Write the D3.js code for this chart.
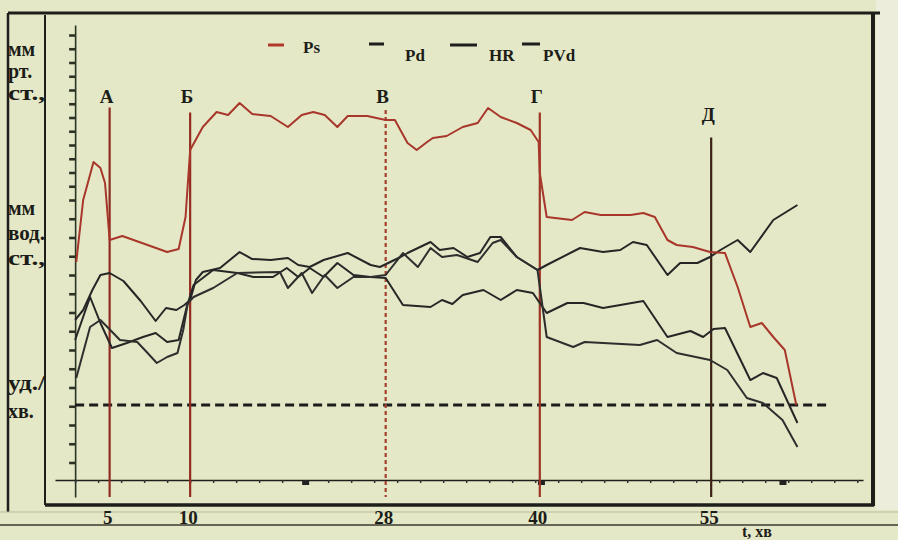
<!DOCTYPE html>
<html>
<head>
<meta charset="utf-8">
<script src="https://cdn.jsdelivr.net/npm/d3@7"></script>
<style>
  html, body { margin: 0; padding: 0; background: #e3e7c3; }
  svg { display: block; }
  text { font-family: "Liberation Serif", "DejaVu Serif", serif; }
</style>
</head>
<body>
<svg id="chart" width="898" height="540"></svg>
<script>
// ---------- DATA (time in minutes, values in chart units) ----------
const seriesNames = ["Ps", "Pd", "HR", "PVd"];

const psT = [0.1,0.7,1.6,2.2,2.6,3.0,4.1,6.3,8.0,9.0,9.6,10.0,11.1,12.3,13.3,14.3,15.4,17.0,18.5,19.7,20.7,21.7,22.8,23.7,25.4,27.0,27.8,28.9,29.7,30.6,31.1,32.3,33.7,35.0,35.9,37.0,38.4,39.6,40.3,40.4,41.0,43.2,44.3,45.7,48.3,49.4,50.4,51.5,52.3,53.7,55.2,56.5,57.6,58.7,59.7,60.7,61.7,62.7];
const psV = [87.2,112,127.2,124.8,118.8,96,97.6,94,91.2,92.4,105.2,132,141.2,147.2,146,150.8,146.4,145.6,141.2,146,147.2,146,141.2,145.6,145.6,144,144,134.8,132,135.2,136.8,137.6,141.2,142.8,148.8,145.2,142.8,140,135.2,122.8,105.2,104,107.2,106,106,106.8,105.2,96,94,93.2,91.2,90.8,77.2,61.2,62.8,57.2,52,30];

const hrT = [0,0.7,1.5,2.2,3.0,4.2,5.7,7.0,7.9,8.8,9.5,10.0,10.5,11.1,12.6,14.3,15.4,17.0,18.5,19.4,20.4,21.6,23.7,25.7,26.5,28.3,28.9,30.9,31.7,32.9,34.1,35.2,36.1,37.0,38.4,40.2,41.0,43.9,45.9,47.4,48.5,49.7,51.5,52.6,54.1,55.2,56.1,57.6,58.7,60.7,62.8];
const hrV = [64,68,76,82,82.8,79.6,71.6,63.6,68.8,68,70,72,80,83.2,84.8,91.2,88.4,88,88.8,86,85.2,88,90.8,86,85.2,89.2,90.8,95.2,92,92.8,89.2,90.8,97.2,97.2,89.2,84,86,92.8,91.2,92,95.2,94,82,86.8,86.8,89.2,92,96,91.2,104,110];

const pdT = [0,1.3,2.2,3.2,4.5,5.9,7.0,8.0,9.0,9.7,10.3,12.0,14.1,15.5,17.2,18.4,19.4,20.4,21.6,22.8,24.2,25.7,27.0,28.5,30.9,31.9,32.8,33.7,35.5,37.0,38.4,39.8,40.4,41.0,42.8,44.2,45.9,49.4,51.5,53.5,54.6,55.5,56.5,58.7,59.8,61.0,62.8];
const pdV = [56,73.2,62.8,52.8,54.8,57.2,58.8,55.2,56,69.2,78,84,82.8,81.2,81.2,84.8,81.2,84.8,81.2,86.8,82,81.2,80.8,70,69.2,72,70.4,74,76,72,76,74.8,70.8,66.8,70.8,70.8,68.8,71.6,57.2,59.6,57.2,60.4,60.8,40,42.8,40.8,22.8];

const pvdT = [0.1,1.3,2.2,2.8,3.9,5.4,6.3,7.1,8.0,8.9,9.4,9.8,10.3,12.0,14.1,17.8,18.5,19.7,20.6,21.7,22.8,24.2,25.7,27.0,28.5,29.8,30.9,31.9,33.2,35.0,36.3,37.0,38.4,40.2,41.0,43.3,44.3,49.1,50.6,52.3,55.2,56.7,58.4,59.8,61.5,62.8];
const pvdV = [40.8,61.2,64,61.2,56,55.2,50.8,46.8,49.2,50.8,60,70.8,73.2,76.8,82.8,83.2,76.8,82.8,74.8,82,76.8,81.2,81.2,82,90.8,85.2,92.8,89.2,90,87.2,94.8,96,89.2,84,57.2,53.2,55.2,54,56,50.8,48,44,32.8,30.8,24,13.2];

// Event markers (stages) and the minute labels shown under them
const eventNames  = ["А", "Б", "В", "Г", "Д"];
const eventTimes  = [3.0, 10.0, 27.0, 40.4, 55.3];
const eventLabels = ["5", "10", "28", "40", "55"];
const eventTops   = [149, 147, 148, 147, 137];
const eventLabelV = [151, 151, 151, 151, 143.5];

// Threshold (dashed) level
const thresholdValue = 30;
const thresholdSpan = [0, 65.4];

// Axis ticks
const xMinorTicks = d3.range(0, 69, 2);
const xBoldTicks = [20, 40.5, 61.5];
const yTicks = [178,172.5,167,161.5,156,150.5,145,139.5,134,128.5,123,117.5,112,104.5,97,89.5,82,74.5,67,59.5,52,44.5,37,29.5,22,14.5,7];

// Left side unit labels
const unitGroups = [
  { lines: ["мм", "рт.", "ст.,"], v: 169.5, step: 22 },
  { lines: ["мм", "вод.", "ст.,"], v: 106, step: 25 },
  { lines: ["уд./", "хв."], v: 36, step: 28 }
];
const xAxisTitle = "t, хв";

// ---------- DRAW ----------
const svg = d3.select("#chart");
const W = 898, H = 540;

const x = d3.scaleLinear().domain([-1.75, 68.5]).range([55, 863]);
const y = d3.scaleLinear().domain([-6.8, 182]).range([497, 25]);

const colors = { Ps: "#a8362a", Pd: "#262626", HR: "#262626", PVd: "#2e2e2e" };
const eventColors = ["#8e2c22", "#932c20", "#a5402e", "#9c3424", "#3c2216"];

// background
svg.append("rect").attr("width", W).attr("height", H).attr("fill", "#e4e8c6");
svg.append("rect").attr("x", 876).attr("y", 0).attr("width", 22).attr("height", 510).attr("fill", "#eceedb");

// frame lines
const frame = svg.append("g").attr("stroke", "#1e1e1a").attr("fill", "none");
frame.append("line").attr("x1", 8).attr("x2", 880).attr("y1", 13).attr("y2", 13).attr("stroke-width", 3);
frame.append("line").attr("x1", 8).attr("x2", 8).attr("y1", 13).attr("y2", 512).attr("stroke-width", 2.5);
frame.append("line").attr("x1", 45).attr("x2", 45).attr("y1", 15).attr("y2", 505).attr("stroke-width", 2);
frame.append("line").attr("x1", 45).attr("x2", 874).attr("y1", 505).attr("y2", 505).attr("stroke-width", 3.5);
frame.append("line").attr("x1", 873).attr("x2", 873).attr("y1", 13).attr("y2", 506).attr("stroke-width", 4);
frame.append("line").attr("x1", 0).attr("x2", 898).attr("y1", 525).attr("y2", 525).attr("stroke-width", 1.6).attr("stroke", "#3a3a30");
frame.append("line").attr("x1", 0).attr("x2", 898).attr("y1", 512).attr("y2", 512).attr("stroke-width", 1).attr("stroke", "#b9bc9a");

// y axis
const yAxis = d3.axisLeft(y).tickValues(yTicks).tickSize(9).tickSizeOuter(0).tickFormat("");
const gy = svg.append("g").attr("transform", `translate(${x(0)},0)`).call(yAxis);
gy.select(".domain").attr("stroke", "#2b3324").attr("stroke-width", 1.6);
gy.selectAll(".tick line").attr("stroke", "#2b3324").attr("stroke-width", 2.6).attr("stroke-dasharray", "6,3");

// x axis
const xAxis = d3.axisBottom(x).tickValues(xMinorTicks).tickSize(3).tickSizeOuter(0).tickFormat("");
const gx = svg.append("g").attr("transform", `translate(0,${y(0)})`).call(xAxis);
gx.select(".domain").attr("stroke", "#1e1e1a").attr("stroke-width", 1.6);
gx.selectAll(".tick line").attr("stroke", "#333").attr("stroke-width", 1.5);
svg.append("g").selectAll("rect").data(xBoldTicks).join("rect")
  .attr("x", d => x(d) - 3).attr("y", y(0) + 1).attr("width", 7).attr("height", 4).attr("fill", "#222");

// threshold dashed line
svg.append("line")
  .attr("x1", x(thresholdSpan[0])).attr("x2", x(thresholdSpan[1]))
  .attr("y1", y(thresholdValue)).attr("y2", y(thresholdValue))
  .attr("stroke", "#1c1c1c").attr("stroke-width", 3).attr("stroke-dasharray", "9,5");

// event vertical lines
const ev = svg.append("g");
eventTimes.forEach((t, i) => {
  ev.append("line")
    .attr("x1", x(t)).attr("x2", x(t))
    .attr("y1", y(eventTops[i])).attr("y2", y(-6.8))
    .attr("stroke", eventColors[i]).attr("stroke-width", 2.2)
    .attr("stroke-dasharray", i === 2 ? "4,3" : null);
  ev.append("text")
    .attr("x", x(t) - 3).attr("y", y(eventLabelV[i]))
    .attr("text-anchor", "middle").attr("font-size", 19).attr("font-weight", "bold")
    .attr("fill", "#1c1c18").text(eventNames[i]);
  ev.append("text")
    .attr("x", x(t) - 2).attr("y", 524)
    .attr("text-anchor", "middle").attr("font-size", 19).attr("font-weight", "bold")
    .attr("fill", "#1c1c18").text(eventLabels[i]);
});

// series lines
const line = d3.line().x(d => x(d[0])).y(d => y(d[1]));
const seriesData = [
  { name: "Pd", pts: d3.zip(pdT, pdV) },
  { name: "HR", pts: d3.zip(hrT, hrV) },
  { name: "PVd", pts: d3.zip(pvdT, pvdV) },
  { name: "Ps", pts: d3.zip(psT, psV) }
];
svg.append("g").selectAll("path").data(seriesData).join("path")
  .attr("d", d => line(d.pts))
  .attr("fill", "none")
  .attr("stroke", d => colors[d.name])
  .attr("stroke-width", 2)
  .attr("stroke-linejoin", "round");

// legend
const legendItems = [
  { name: "Ps", dx: 268, lx: 303, dy: 45, ty: 53, len: 16 },
  { name: "Pd", dx: 369, lx: 405, dy: 44, ty: 61, len: 15 },
  { name: "HR", dx: 450, lx: 489, dy: 45, ty: 61, len: 27 },
  { name: "PVd", dx: 522, lx: 543, dy: 44, ty: 61, len: 18 }
];
const lg = svg.append("g");
legendItems.forEach(it => {
  lg.append("line").attr("x1", it.dx).attr("x2", it.dx + it.len).attr("y1", it.dy).attr("y2", it.dy)
    .attr("stroke", it.name === "Ps" ? "#b0382c" : "#1e1e1e").attr("stroke-width", 3);
  lg.append("text").attr("x", it.lx).attr("y", it.ty).attr("font-size", 17).attr("font-weight", "bold")
    .attr("fill", "#1c1c18").text(it.name);
});

// unit labels on the left
const ul = svg.append("g");
unitGroups.forEach(g => {
  g.lines.forEach((s, j) => {
    ul.append("text").attr("x", 8).attr("y", y(g.v) + j * g.step)
      .attr("font-size", 20).attr("font-weight", "bold").attr("fill", "#1c1c18")
      .attr("textLength", s.length > 3 ? 37 : null).attr("lengthAdjust", "spacingAndGlyphs")
      .text(s);
  });
});

// x axis title
svg.append("text").attr("x", 742).attr("y", 537).attr("font-size", 16).attr("font-weight", "bold")
  .attr("fill", "#1c1c18").text(xAxisTitle);
</script>
</body>
</html>
